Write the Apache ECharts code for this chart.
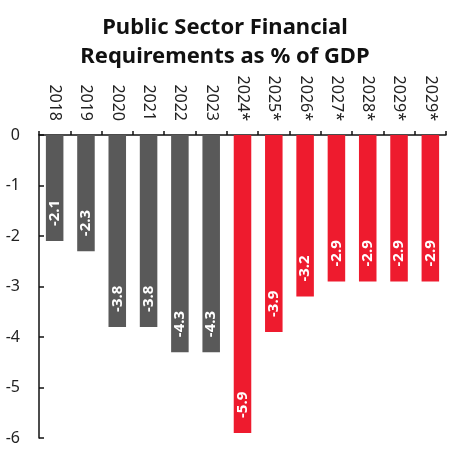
<!DOCTYPE html>
<html><head><meta charset="utf-8">
<script src="https://cdn.jsdelivr.net/npm/echarts@6/dist/echarts.min.js"></script>
<style>html,body{margin:0;padding:0;background:#fff}#c{width:450px;height:450px}</style>
</head><body><div id="c"></div>
<script>
const categories = ['2018','2019','2020','2021','2022','2023','2024*','2025*','2026*','2027*','2028*','2029*','2029*'];
const values = [-2.1,-2.3,-3.8,-3.8,-4.3,-4.3,-5.9,-3.9,-3.2,-2.9,-2.9,-2.9,-2.9];
const isForecast = [false,false,false,false,false,false,true,true,true,true,true,true,true];
const yTicks = [0,-1,-2,-3,-4,-5,-6];
const GRAY = '#595959', RED = '#ee1b2e';
const chart = echarts.init(document.getElementById('c'));
const F = 'Noto Sans';
chart.setOption({
  animation: false,
  title: {
    text: 'Public Sector Financial\nRequirements as % of GDP',
    left: 'center', top: 8,
    textStyle: {fontFamily: F, fontWeight: 'bold', fontSize: 22, lineHeight: 29, color: '#111'}
  },
  grid: {left: 39, right: 4, top: 135, bottom: 12, containLabel: false},
  xAxis: {
    type: 'category', position: 'top', data: categories,
    axisLine: {show: true, onZero: false, lineStyle: {color: '#111', width: 1.5}},
    axisTick: {show: true, length: 4, lineStyle: {color: '#111', width: 1.5}},
    axisLabel: {rotate: 90, fontFamily: F, fontSize: 16, color: '#222', margin: 14}
  },
  yAxis: {
    type: 'value', min: -6, max: 0, interval: 1,
    axisLine: {show: true, lineStyle: {color: '#111', width: 1.5}},
    axisTick: {show: true, inside: true, length: 5, lineStyle: {color: '#111', width: 1.5}},
    splitLine: {show: false},
    axisLabel: {fontFamily: F, fontSize: 16, color: '#222', margin: 19,
      formatter: v => yTicks.includes(v) ? String(v) : ''}
  },
  series: [{
    type: 'bar', barWidth: '56%',
    data: values.map((v, i) => ({value: v, itemStyle: {color: isForecast[i] ? RED : GRAY}})),
    label: {
      show: true, position: 'insideBottom', rotate: 90, align: 'left', verticalAlign: 'middle',
      distance: 15, fontFamily: F, fontWeight: 'bold', fontSize: 15, color: '#fff',
      formatter: p => p.value.toFixed(1)
    }
  }]
});
</script></body></html>
